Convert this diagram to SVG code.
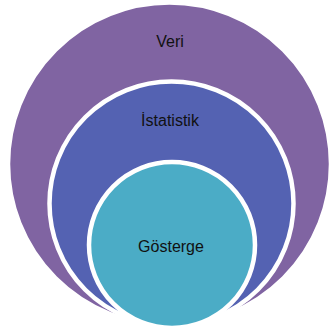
<svg xmlns="http://www.w3.org/2000/svg" width="331" height="336" viewBox="0 0 331 336">
<style>
.c{stroke:#fff;stroke-width:4.5}
.t{font-family:"Liberation Sans","Open Sans",sans-serif;font-size:16px;fill:#111;text-anchor:middle}
</style>
<rect width="331" height="336" fill="#fff"/>
<g id="veri">
<circle class="c" cx="169.5" cy="164" r="161.5" fill="#8064A2"/>
<text class="t" x="170" y="47">Veri</text>
</g>
<g id="istatistik">
<circle class="c" cx="171.5" cy="203.5" r="122" fill="#5462B2"/>
<text class="t" x="170" y="126">İstatistik</text>
</g>
<g id="gosterge">
<circle class="c" cx="172" cy="245" r="83" fill="#4BACC6"/>
<text class="t" x="171" y="252">Gösterge</text>
</g>
<g id="connectors"/>
</svg>
